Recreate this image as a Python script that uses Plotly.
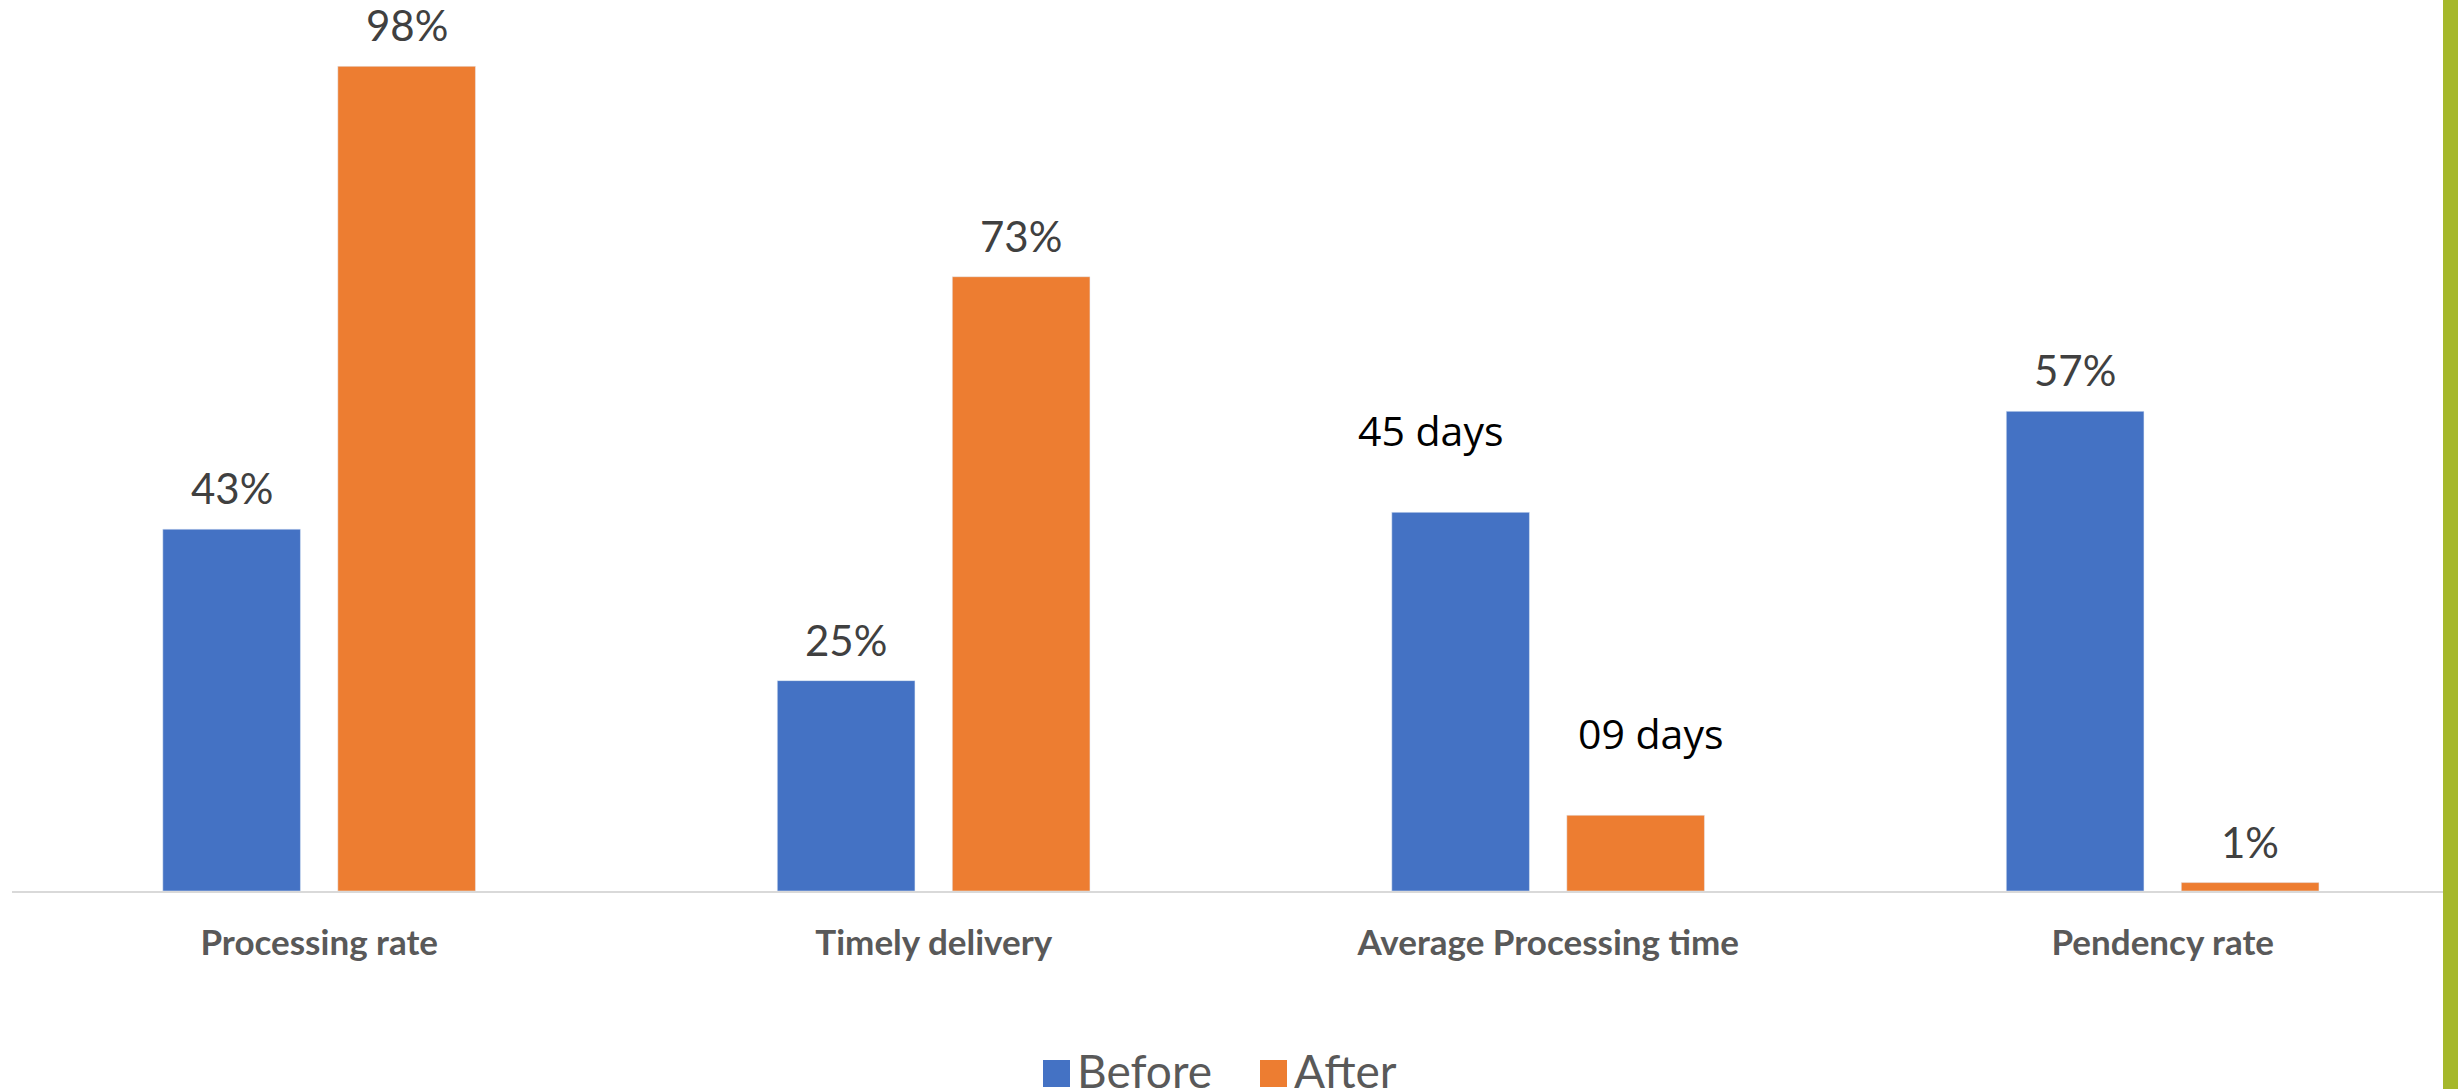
import plotly.graph_objects as go

categories = ["Processing rate", "Timely delivery", "Average Processing time", "Pendency rate"]
before_values = [43, 25, 45, 57]
after_values = [98, 73, 9, 1]
before_labels = ["43%", "25%", "45 days", "57%"]
after_labels = ["98%", "73%", "09 days", "1%"]
series_names = ["Before", "After"]

BLUE = "#4472C4"
ORANGE = "#ED7D31"
GREEN = "#A5B82B"

W, H = 2458, 1089
L, R, T = 12, 0, 20
AXIS_Y = 891               # pixel of the baseline
B = H - AXIS_Y
PW, PH = W - L - R, H - T - B


def px2x(p):  # pixel -> paper x
    return (p - L) / PW


def py2y(p):  # pixel -> paper y
    return (AXIS_Y - p) / PH


xs = list(range(len(categories)))
bar_w = 0.224
off_before = -0.2546
off_after = 0.0302

fig = go.Figure()
fig.add_trace(go.Bar(x=xs, y=before_values, name=series_names[0], marker_color=BLUE,
                     width=bar_w, offset=off_before, showlegend=False, hoverinfo="skip"))
fig.add_trace(go.Bar(x=xs, y=after_values, name=series_names[1], marker_color=ORANGE,
                     width=bar_w, offset=off_after, showlegend=False, hoverinfo="skip"))

annotations = []
for vals, labels, off in [(before_values, before_labels, off_before), (after_values, after_labels, off_after)]:
    for i, (v, lab) in enumerate(zip(vals, labels)):
        is_days = "days" in lab
        xshift = 0
        if is_days:
            xshift = -30 if off < 0 else 15
        annotations.append(dict(
            x=i + off + bar_w / 2, y=v, xref="x", yref="y", text=lab, showarrow=False,
            xanchor="center", yanchor="bottom", yshift=52 if is_days else 14, xshift=xshift,
            font=dict(family="Open Sans" if is_days else "Lato", size=41 if is_days else 42,
                      color="#000000" if is_days else "#404040"),
        ))

# manual legend (large square swatches)
legend_items = [(series_names[0], BLUE, 1043), (series_names[1], ORANGE, 1260)]
shapes = []
for name, col, x0 in legend_items:
    shapes.append(dict(type="rect", xref="paper", yref="paper",
                       x0=px2x(x0), x1=px2x(x0 + 27), y0=py2y(1060), y1=py2y(1087),
                       fillcolor=col, line=dict(width=0), layer="above"))
    annotations.append(dict(x=px2x(x0 + 32), y=py2y(1041), xref="paper", yref="paper",
                            text=name, showarrow=False, xanchor="left", yanchor="top",
                            font=dict(family="Lato", size=46, color="#595959")))

# right-hand green band
shapes.append(dict(type="rect", xref="paper", yref="paper",
                   x0=px2x(2443), x1=px2x(2458), y0=py2y(H), y1=py2y(0),
                   fillcolor=GREEN, line=dict(width=0), layer="above"))

fig.update_layout(
    width=W, height=H,
    margin=dict(l=L, r=R, t=T, b=B, pad=0),
    paper_bgcolor="white", plot_bgcolor="white",
    barmode="overlay",
    font=dict(family="Lato", color="#595959"),
    annotations=annotations, shapes=shapes,
    showlegend=False,
)
fig.update_xaxes(range=[-0.5, -0.5 + PW / 614.5], tickvals=xs, ticktext=["<b>%s</b>" % c for c in categories],
                 tickfont=dict(family="Lato", size=35, color="#595959"),
                 showline=True, linecolor="#D9D9D9", linewidth=2, showgrid=False, zeroline=False,
                 ticks="", ticklabelstandoff=20)
fig.update_yaxes(range=[0, PH / 8.415], visible=False, showgrid=False, zeroline=False)

fig.write_html("out.html", config={"displayModeBar": False, "staticPlot": True},
               post_script="document.body.style.margin='0px';document.body.style.overflow='hidden';")
